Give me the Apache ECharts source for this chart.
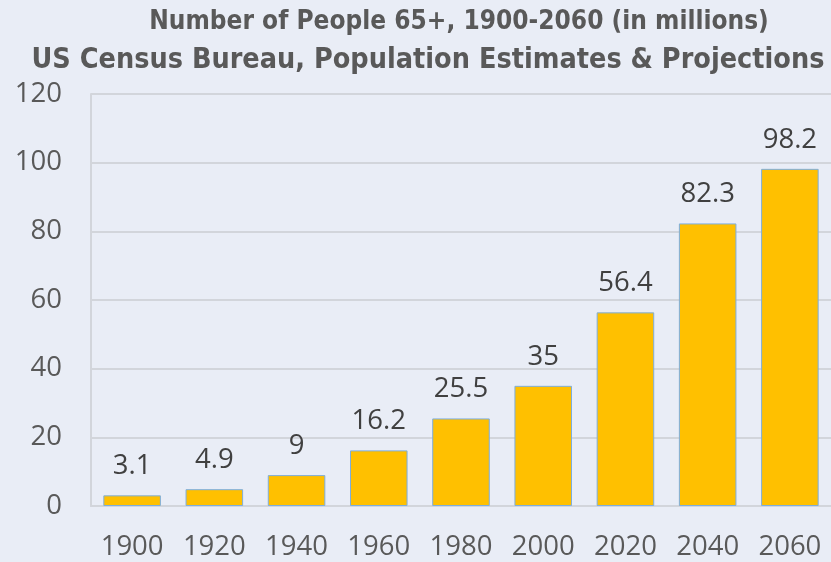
<!DOCTYPE html>
<html><head><meta charset="utf-8">
<script src="https://cdn.jsdelivr.net/npm/echarts@6/dist/echarts.min.js"></script>
<style>html,body{margin:0;padding:0;background:#E9EDF6;}#c{width:831px;height:562px;}</style>
</head><body><div id="c"></div>
<script>
const categories = ['1900','1920','1940','1960','1980','2000','2020','2040','2060'];
const values = [3.1, 4.9, 9, 16.2, 25.5, 35, 56.4, 82.3, 98.2];
const titleLine1 = 'Number of People 65+, 1900-2060 (in millions)';
const titleLine2 = 'US Census Bureau, Population Estimates & Projections';
const yMin = 0, yMax = 120, yStep = 20;

const chart = echarts.init(document.getElementById('c'), null, {renderer:'canvas'});
const labelFont = '"Open Sans", "Noto Sans", sans-serif';
const titleFont = '"DejaVu Sans Condensed","Liberation Sans",sans-serif';
chart.setOption({
  backgroundColor: '#E9EDF6',
  animation: false,
  title: [
    {text: titleLine1, left: 454, top: 4, textAlign: 'center',
     textStyle:{fontFamily:titleFont, fontWeight:'bold', fontSize:26, color:'#595959'}},
    {text: titleLine2, left: 423, top: 41, textAlign: 'center',
     textStyle:{fontFamily:titleFont, fontWeight:'bold', fontSize:28.5, color:'#595959'}}
  ],
  grid: {left: 91, right: -4, top: 94, bottom: 56, containLabel:false},
  xAxis: {
    type:'category', data: categories,
    axisLine:{lineStyle:{color:'#D2D5DB', width:2}},
    axisTick:{show:false},
    axisLabel:{interval:0, hideOverlap:false, color:'#595959', fontSize:27.5, fontFamily:labelFont, margin:27}
  },
  yAxis: {
    type:'value', min:yMin, max:yMax, interval:yStep,
    axisLine:{show:true, lineStyle:{color:'#D2D5DB', width:2}},
    axisTick:{show:false},
    splitLine:{lineStyle:{color:'#D2D5DB', width:2}},
    axisLabel:{color:'#595959', fontSize:27.5, fontFamily:labelFont, margin:29}
  },
  series: [{
    type:'bar', data: values, barCategoryGap:'30%',
    itemStyle:{color:'#FFC000', borderColor:'#7DAEDD', borderWidth:1},
    label:{show:true, position:'top', distance:15, color:'#404040', fontSize:27.5, fontFamily:labelFont}
  }]
});
</script></body></html>
